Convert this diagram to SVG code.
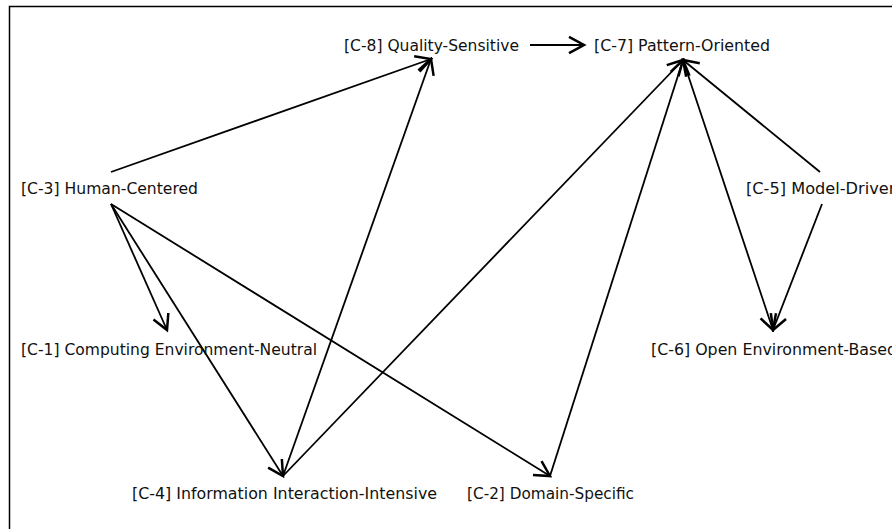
<svg xmlns="http://www.w3.org/2000/svg" width="892" height="529" viewBox="0 0 892 529">
  <style>
    .lbl { font-family: "DejaVu Sans", Verdana, sans-serif; font-size: 15.5px; fill: #111; }
    .edge { stroke: #000; stroke-width: 1.8; fill: none; marker-end: url(#arrow); }
  </style>
  <defs>
    <marker id="arrow" markerUnits="userSpaceOnUse" markerWidth="20" markerHeight="20" refX="0" refY="0" viewBox="-14 -8 16 16" orient="auto">
      <path d="M-12,-6.5 L0,0 L-12,6.5" fill="none" stroke="#000" stroke-width="2"/>
    </marker>
  </defs>
  <rect width="892" height="529" fill="#fff"/>
  <!-- frame -->
  <path d="M9.5,529 V6.5 H892" fill="none" stroke="#000" stroke-width="1.5"/>

  <g id="connectors">
    <line class="edge" x1="530" y1="45" x2="584" y2="45"/>
    <line class="edge" x1="111" y1="172" x2="431" y2="59"/>
    <line class="edge" x1="111" y1="204" x2="167" y2="330"/>
    <line class="edge" x1="111" y1="204" x2="283" y2="476"/>
    <line class="edge" x1="111" y1="204" x2="550" y2="476"/>
    <line class="edge" x1="283" y1="476" x2="431" y2="59"/>
    <line class="edge" x1="283" y1="476" x2="683" y2="60"/>
    <line class="edge" x1="550" y1="476" x2="683" y2="60"/>
    <line class="edge" x1="820" y1="172" x2="683" y2="60"/>
    <line class="edge" x1="683" y1="60" x2="773" y2="330"/>
    <line class="edge" x1="822" y1="204" x2="773" y2="330"/>
  </g>

  <g id="c8"><text class="lbl" x="344" y="51" textLength="175" lengthAdjust="spacingAndGlyphs">[C-8] Quality-Sensitive</text></g>
  <g id="c7"><text class="lbl" x="594" y="51" textLength="176" lengthAdjust="spacingAndGlyphs">[C-7] Pattern-Oriented</text></g>
  <g id="c3"><text class="lbl" x="21" y="194" textLength="177" lengthAdjust="spacingAndGlyphs">[C-3] Human-Centered</text></g>
  <g id="c5"><text class="lbl" x="746" y="194" textLength="153" lengthAdjust="spacingAndGlyphs">[C-5] Model-Driven</text></g>
  <g id="c1"><text class="lbl" x="21" y="355" textLength="296" lengthAdjust="spacingAndGlyphs">[C-1] Computing Environment-Neutral</text></g>
  <g id="c6"><text class="lbl" x="651" y="355" textLength="246" lengthAdjust="spacingAndGlyphs">[C-6] Open Environment-Based</text></g>
  <g id="c4"><text class="lbl" x="132" y="499" textLength="305" lengthAdjust="spacingAndGlyphs">[C-4] Information Interaction-Intensive</text></g>
  <g id="c2"><text class="lbl" x="467" y="499" textLength="167" lengthAdjust="spacingAndGlyphs">[C-2] Domain-Specific</text></g>
</svg>
